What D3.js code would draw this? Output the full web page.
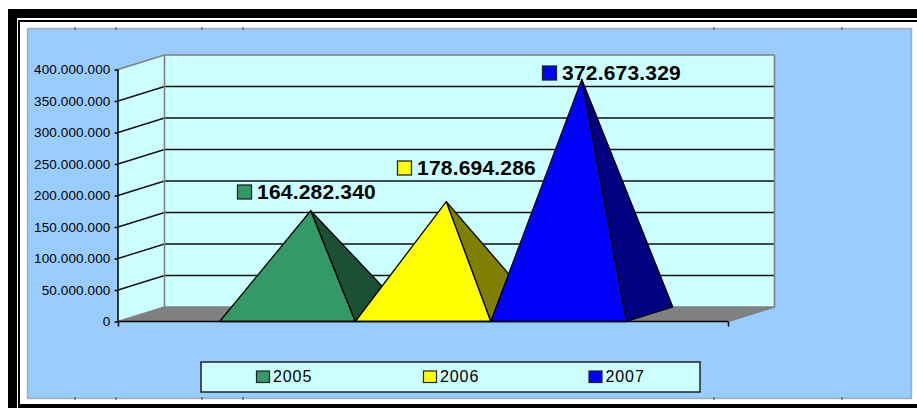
<!DOCTYPE html>
<html><head><meta charset="utf-8">
<script src="https://cdnjs.cloudflare.com/ajax/libs/d3/7.8.5/d3.min.js"></script>
<style>html,body{margin:0;padding:0;background:#fff}svg{display:block}text{font-family:"Liberation Sans",Arial,sans-serif;fill:#000}</style>
</head><body><svg id="c" width="917" height="408"></svg>
<script>
const years = ["2005","2006","2007"];
const values = [164282340,178694286,372673329];
const frontColors = ["#339966","#FFFF00","#0000FF"];
const sideColors = ["#1B5035","#808000","#000080"];
const yTicks = [0,50000000,100000000,150000000,200000000,250000000,300000000,350000000,400000000];
const labelPos = [[237,184.5],[397,160.5],[542,65.5]];
const legendX = [256,423,588.5];
const frameTicksX = [75,116,202,243,714,842];

const svg = d3.select("#c");
const fmt = d3.formatLocale({decimal:",",thousands:".",grouping:[3],currency:["",""]}).format(",d");
const dx = 46.5, dy = -14.5;
const y = d3.scaleLinear().domain([0,400000000]).range([321.5,69.5]);
const x = d3.scaleBand().domain(years).range([118,728]).paddingInner(0).paddingOuter(0.75);
const xl = d3.scaleLinear().domain([0,1]).range([118,728]);
const L = xl(0), R = xl(1), Y0 = y(0), Yt = y(400000000);

// frames
svg.append("rect").attr("x",8).attr("y",9).attr("width",909).attr("height",9).attr("fill","#000");
svg.append("rect").attr("x",8).attr("y",9).attr("width",9).attr("height",399).attr("fill","#000");
svg.append("rect").attr("x",19).attr("y",21).attr("width",899).attr("height",384.5).attr("fill","none").attr("stroke","#000").attr("stroke-width",2);
svg.append("rect").attr("x",18).attr("y",404).attr("width",899).attr("height",4).attr("fill","#000");
svg.append("rect").attr("x",27.5).attr("y",28.5).attr("width",884).attr("height",370).attr("fill","#99CCFF").attr("stroke","#777").attr("stroke-width",1.5).attr("stroke-dasharray","1 1");
svg.selectAll(".ft").data(frameTicksX).join("path").attr("d",d=>`M${d} 27V30M${d} 397V400`).attr("stroke","#222").attr("stroke-width",.8);

// walls and floor
svg.append("path").attr("d",`M${L} ${Y0}L${L} ${Yt}L${L+dx} ${Yt+dy}L${L+dx} ${Y0+dy}Z`).attr("fill","#CCFFFF");
svg.append("rect").attr("x",L+dx).attr("y",Yt+dy).attr("width",R-L).attr("height",Y0-Yt).attr("fill","#CCFFFF");
svg.append("path").attr("d",`M${L} ${Y0}L${L+dx} ${Y0+dy}L${R+dx} ${Y0+dy}L${R} ${Y0}Z`).attr("fill","#808080");
// gridlines
const grid = yTicks.slice(1);
svg.selectAll(".g").data(grid).join("path")
  .attr("d",d=>`M${L} ${y(d)}L${L+dx} ${y(d)+dy}L${R+dx} ${y(d)+dy}`)
  .attr("fill","none").attr("stroke",d=>d===400000000?"#808080":"#111").attr("stroke-width",d=>d===400000000?1.7:1.4);
svg.append("path").attr("d",`M${L+dx} ${Yt+dy}V${Y0+dy}M${R+dx} ${Yt+dy}V${Y0+dy}L${R} ${Y0}M${L} ${Y0}L${L+dx} ${Y0+dy}H${R+dx}`).attr("fill","none").attr("stroke","#808080").attr("stroke-width",1.6);

// pyramids
const g = svg.selectAll(".p").data(years).join("g");
const s = x.bandwidth();
const line = {stroke:"#000","stroke-width":1.3,"stroke-linejoin":"round"};
g.each(function(yr,i){
  const sel = d3.select(this), a = x(yr);
  const apexX = a+s/2+dx/2, apexY = Y0+dy/2-(Y0-y(values[i]));
  const side = sel.append("path").attr("d",`M${a+s} ${Y0}L${a+s+dx} ${Y0+dy}L${apexX} ${apexY}Z`).attr("fill",sideColors[i]);
  const front = sel.append("path").attr("d",`M${a} ${Y0}L${a+s} ${Y0}L${apexX} ${apexY}Z`).attr("fill",frontColors[i]);
  [side,front].forEach(p=>Object.entries(line).forEach(([k,v])=>p.attr(k,v)));
});

// axes
const ya = svg.append("g").attr("transform",`translate(${L},0)`).call(d3.axisLeft(y).tickValues(yTicks).tickFormat(d=>d===0?"0":fmt(d)).tickSize(3.5).tickPadding(4));
ya.selectAll("text").attr("font-size",13.5).attr("letter-spacing",.12).style("font-family",'"Liberation Sans",Arial,sans-serif').attr("fill","#111");
ya.selectAll("line,path").attr("stroke","#000").attr("stroke-width",1.5);
ya.select(".domain").attr("d",`M0 ${Yt}V${Y0}`);
const xa = svg.append("g").attr("transform",`translate(0,${Y0})`).call(d3.axisBottom(xl).tickValues([0,1]).tickFormat("").tickSize(5));
xa.selectAll("line,path").attr("stroke","#000").attr("stroke-width",1.5);
xa.select(".domain").attr("d",`M${L} 0H${R}`);

// data labels
const lab = svg.selectAll(".l").data(years).join("g").attr("transform",(d,i)=>`translate(${labelPos[i][0]},${labelPos[i][1]})`);
lab.append("rect").attr("x",.5).attr("y",.5).attr("width",14).attr("height",14).attr("fill",(d,i)=>frontColors[i]).attr("stroke","#222").attr("stroke-width",1.3);
lab.append("text").attr("x",20).attr("y",14.5).attr("font-size",21).attr("font-weight","bold").attr("letter-spacing",.2).text((d,i)=>fmt(values[i]));

// legend
svg.append("rect").attr("x",201).attr("y",362).attr("width",499).attr("height",30).attr("fill","#CCFFFF").attr("stroke","#222").attr("stroke-width",1.5);
const leg = svg.selectAll(".k").data(years).join("g").attr("transform",(d,i)=>`translate(${legendX[i]},370.5)`);
leg.append("rect").attr("x",.5).attr("y",.5).attr("width",13).attr("height",11.5).attr("fill",(d,i)=>frontColors[i]).attr("stroke","#222").attr("stroke-width",1.2);
leg.append("text").attr("x",17).attr("y",11).attr("font-size",16).attr("letter-spacing",.9).attr("fill","#111").text(d=>d);
</script></body></html>
